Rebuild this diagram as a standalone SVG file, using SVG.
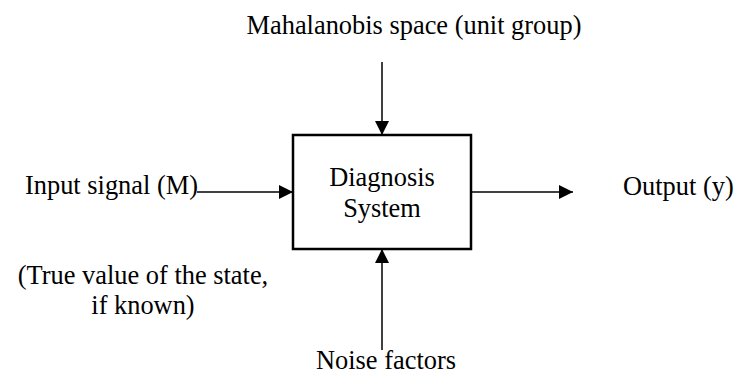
<svg xmlns="http://www.w3.org/2000/svg" width="736" height="376" viewBox="0 0 736 376">
<style>
text{font-family:'Liberation Serif','Times New Roman',Times,serif;font-size:26.4px;fill:#000}
.c{stroke:#000;stroke-width:1.5;fill:none}
</style>
<defs>
<marker id="ah" viewBox="0 0 14 14" refX="14" refY="7" markerWidth="14" markerHeight="14" markerUnits="userSpaceOnUse" orient="auto">
<path d="M0,0 L14,7 L0,14 Z" fill="#000"/>
</marker>
</defs>
<rect width="736" height="376" fill="#fff"/>
<g id="connectors">
<line class="c" x1="382" y1="62" x2="382" y2="135" marker-end="url(#ah)"/>
<line class="c" x1="382" y1="350" x2="382" y2="249" marker-end="url(#ah)"/>
<line class="c" x1="197" y1="192" x2="293" y2="192" marker-end="url(#ah)"/>
<line class="c" x1="471" y1="192" x2="573" y2="192" marker-end="url(#ah)"/>
</g>
<g id="diagnosis">
<rect x="293" y="135" width="178" height="114" fill="#fff" stroke="#000" stroke-width="2.5"/>
<text x="382" y="186" text-anchor="middle">Diagnosis</text>
<text x="382" y="217" text-anchor="middle">System</text>
</g>
<g id="mahalanobis"><text x="414" y="34" text-anchor="middle">Mahalanobis space (unit group)</text></g>
<g id="input"><text x="25" y="194">Input signal (M)</text></g>
<g id="output"><text x="623" y="195">Output (y)</text></g>
<g id="truevalue">
<text x="143" y="284" text-anchor="middle">(True value of the state,</text>
<text x="143" y="314" text-anchor="middle">if known)</text>
</g>
<g id="noise"><text x="386" y="369" text-anchor="middle">Noise factors</text></g>
</svg>
